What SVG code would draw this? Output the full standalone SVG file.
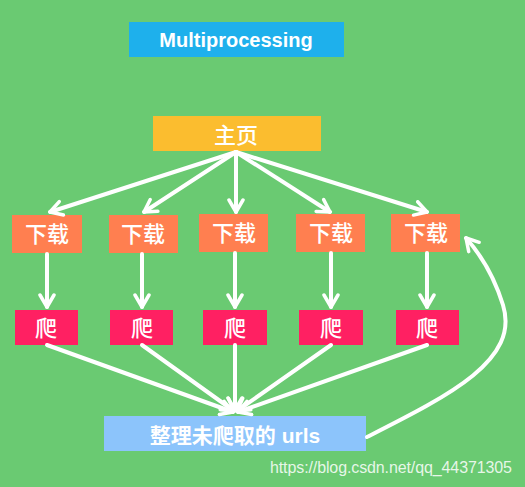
<svg xmlns="http://www.w3.org/2000/svg" width="525" height="487" viewBox="0 0 525 487">
<defs>
<style>
.bg{fill:#6aca72}
.t{fill:#ffffff;text-anchor:middle;font-family:"Liberation Sans","Noto Sans CJK SC",sans-serif}
.cjk{font-family:"Noto Sans CJK SC","Liberation Sans",sans-serif;font-size:22px;font-weight:500}
.dl{fill:#ff7f50}
.pa{fill:#ff2062}
.ln{fill:none;stroke:#ffffff;stroke-width:4;stroke-linecap:round}
</style>
<marker id="ah" viewBox="0 0 18 18" refX="14" refY="9" markerWidth="18" markerHeight="18" markerUnits="userSpaceOnUse" orient="auto">
<path d="M2,2 L14,9 L2,16" fill="none" stroke="#ffffff" stroke-width="3.5" stroke-linecap="round" stroke-linejoin="round"/>
</marker>
</defs>
<rect class="bg" x="0" y="0" width="525" height="487"/>
<g id="title">
<rect x="129" y="22" width="215" height="35" fill="#1eb0ec"/>
<text class="t" x="236" y="47" font-size="20" font-weight="bold">Multiprocessing</text>
</g>
<g id="home">
<rect x="153" y="116" width="168" height="35" fill="#fbbd2f"/>
<text class="t cjk" x="236" y="143">主页</text>
</g>
<g id="dl1"><rect class="dl" x="12" y="215" width="70" height="38"/><text class="t cjk" x="47" y="242">下载</text></g>
<g id="dl2"><rect class="dl" x="109" y="215" width="69" height="38"/><text class="t cjk" x="143" y="242">下载</text></g>
<g id="dl3"><rect class="dl" x="199" y="214" width="69" height="38"/><text class="t cjk" x="234" y="241">下载</text></g>
<g id="dl4"><rect class="dl" x="296" y="214" width="69" height="38"/><text class="t cjk" x="331" y="241">下载</text></g>
<g id="dl5"><rect class="dl" x="391" y="214" width="69" height="38"/><text class="t cjk" x="426" y="241">下载</text></g>
<g id="pa1"><rect class="pa" x="15" y="310" width="63" height="35"/><text class="t cjk" x="46" y="336">爬</text></g>
<g id="pa2"><rect class="pa" x="110" y="310" width="63" height="35"/><text class="t cjk" x="142" y="336">爬</text></g>
<g id="pa3"><rect class="pa" x="203" y="310" width="64" height="35"/><text class="t cjk" x="235" y="336">爬</text></g>
<g id="pa4"><rect class="pa" x="299" y="310" width="64" height="35"/><text class="t cjk" x="331" y="336">爬</text></g>
<g id="pa5"><rect class="pa" x="396" y="310" width="63" height="35"/><text class="t cjk" x="427" y="336">爬</text></g>
<g id="urls">
<rect x="104" y="416" width="262" height="35" fill="#8cc4fb"/>
<text class="t" x="235" y="443" font-size="21" font-weight="bold" font-family="'Noto Sans CJK SC','Liberation Sans',sans-serif">整理未爬取的 urls</text>
</g>
<g id="connectors">
<path class="ln" marker-end="url(#ah)" d="M236,152 L50,212"/>
<path class="ln" marker-end="url(#ah)" d="M236,152 L144,212"/>
<path class="ln" marker-end="url(#ah)" d="M236,152 L236,212"/>
<path class="ln" marker-end="url(#ah)" d="M236,152 L330,212"/>
<path class="ln" marker-end="url(#ah)" d="M236,152 L427,212"/>
<path class="ln" marker-end="url(#ah)" d="M47,254 L47,307"/>
<path class="ln" marker-end="url(#ah)" d="M142,254 L142,307"/>
<path class="ln" marker-end="url(#ah)" d="M235,253 L235,307"/>
<path class="ln" marker-end="url(#ah)" d="M331,253 L331,307"/>
<path class="ln" marker-end="url(#ah)" d="M427,253 L427,307"/>
<path class="ln" marker-end="url(#ah)" d="M47,345 L233,412"/>
<path class="ln" marker-end="url(#ah)" d="M142,345 L234,411"/>
<path class="ln" marker-end="url(#ah)" d="M235,345 L235,410"/>
<path class="ln" marker-end="url(#ah)" d="M331,345 L237,411"/>
<path class="ln" marker-end="url(#ah)" d="M427,345 L238,412"/>
<path class="ln" marker-end="url(#ah)" d="M367,437 C450,395 520,360 503,305 C494,276 482,256 466,238"/>
</g>
<text x="270" y="473" font-family="'Liberation Sans',sans-serif" font-size="16" fill="#ffffff" fill-opacity="0.85" textLength="242">https://blog.csdn.net/qq_44371305</text>
</svg>
